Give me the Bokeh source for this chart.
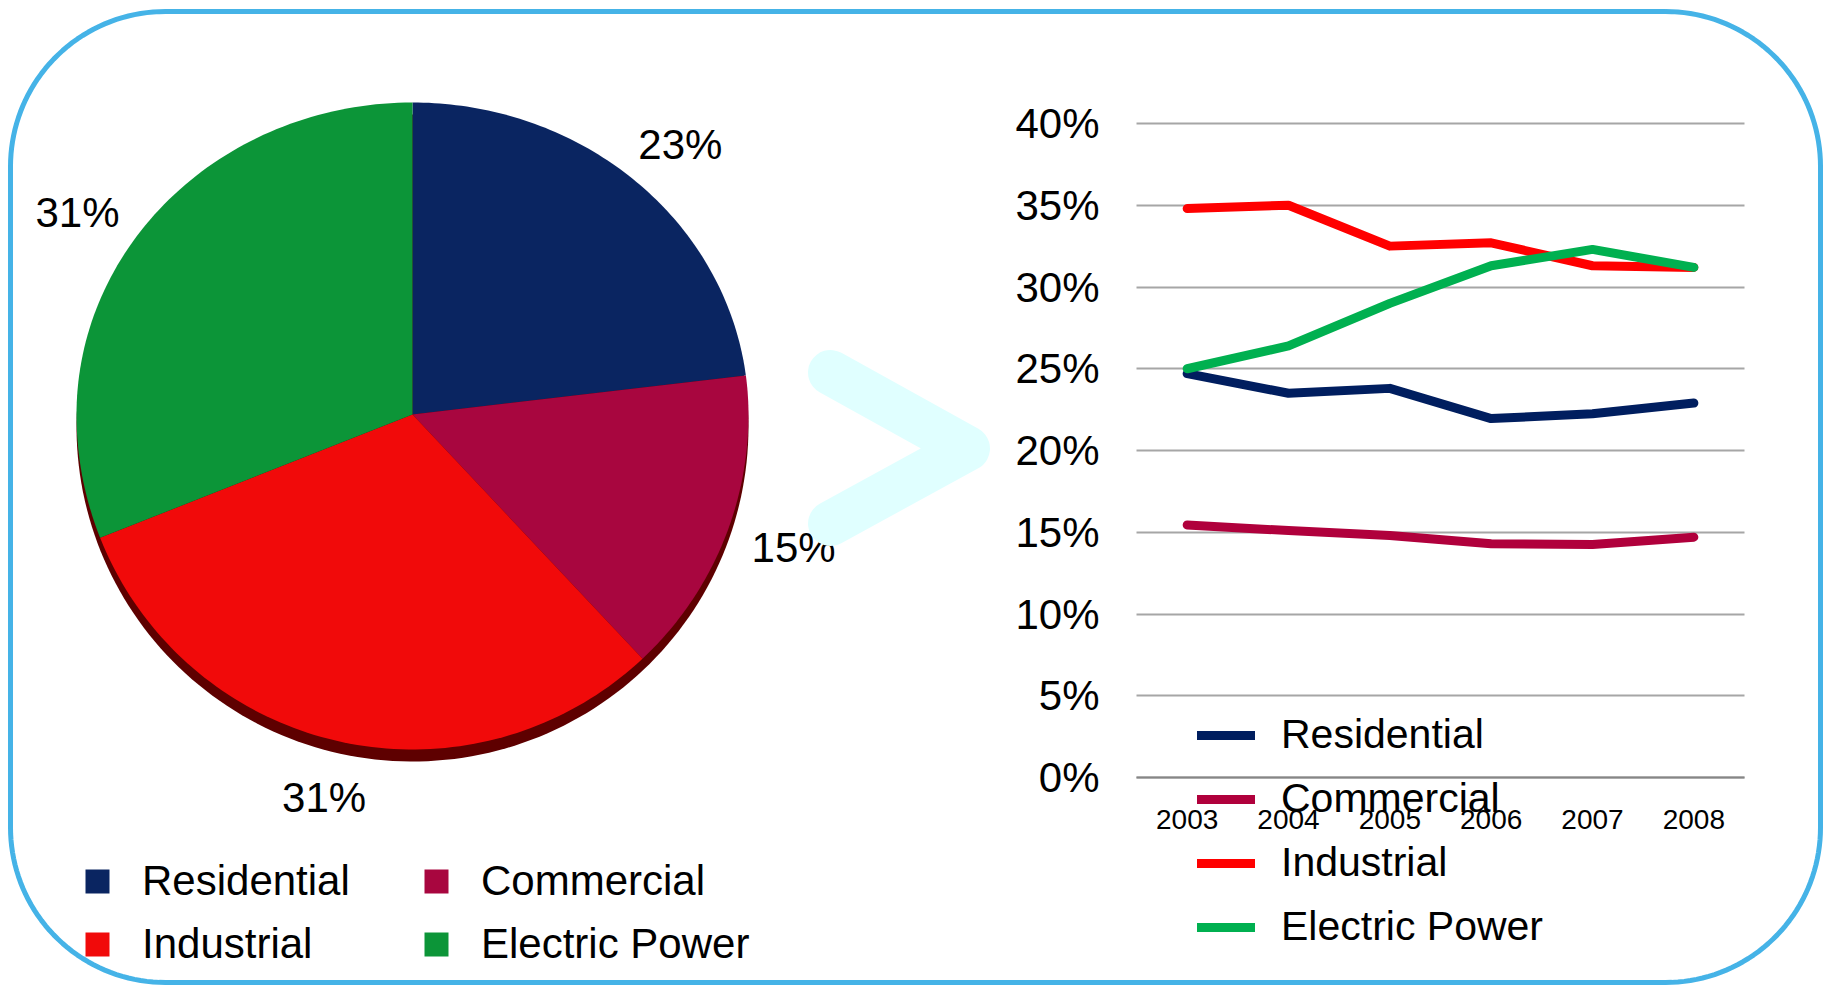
import numpy as np
from bokeh.plotting import figure
from bokeh.models import (Range1d, LinearAxis, FixedTicker, NumeralTickFormatter,
                          Grid, Legend, LegendItem)
from bokeh.core.properties import value
from bokeh.embed import file_html
from bokeh.resources import INLINE

# ---------------- data ----------------
categories = ["Residential", "Commercial", "Industrial", "Electric Power"]
pie_shares = [23, 15, 31, 31]
pie_colors = ["#0a2561", "#a8063f", "#f10a0a", "#0c9538"]
line_colors = ["#001e5f", "#b0003c", "#ff0000", "#00b050"]

years = ["2003", "2004", "2005", "2006", "2007", "2008"]
residential = [0.247, 0.235, 0.238, 0.2195, 0.2225, 0.229]
commercial = [0.1545, 0.151, 0.148, 0.143, 0.1425, 0.147]
industrial = [0.348, 0.350, 0.325, 0.327, 0.313, 0.312]
electric_power = [0.250, 0.264, 0.290, 0.313, 0.323, 0.312]
y_ticks = [0.0, 0.05, 0.10, 0.15, 0.20, 0.25, 0.30, 0.35, 0.40]

FONT = "Liberation Sans"

# ---------------- canvas ----------------
W, H = 1830, 985
OX, OY = 0, 0  # page offset of the canvas
p = figure(width=W, height=H,
           x_range=Range1d(OX, OX + W), y_range=Range1d(OY + H, OY),
           x_axis_type=None, y_axis_type=None,
           toolbar_location=None, output_backend="svg",
           min_border=0, outline_line_color=None)
p.background_fill_color = "white"
p.border_fill_color = "white"

# rounded border
L, R, T, B, rad = 10, 1820, 11, 982, 155
def arc(cx, cy, a0, a1):
    t = np.radians(np.linspace(a0, a1, 40))
    return list(cx + rad * np.cos(t)), list(cy - rad * np.sin(t))
bx, by = [], []
for (cx, cy, a0, a1) in [(R - rad, T + rad, 90, 0), (R - rad, B - rad, 0, -90),
                         (L + rad, B - rad, -90, -180), (L + rad, T + rad, 180, 90)]:
    ax_, ay_ = arc(cx, cy, a0, a1)
    bx += ax_
    by += ay_
bx.append(bx[0]); by.append(by[0])
p.line(bx, by, line_color="#45b3e7", line_width=5)

# ---------------- pie (slightly tilted: flatter top half) ----------------
cx, cy, rx = 412, 414, 336
ry_top, ry_bot = 312, 335
shares = np.array(pie_shares, dtype=float)
cum = np.cumsum(shares) / shares.sum()
ends = 90 - 360 * cum
starts = 90 - 360 * (cum - shares / shares.sum())

def rim(t):
    s = np.sin(t)
    return cx + rx * np.cos(t), cy - np.where(s > 0, ry_top, ry_bot) * s

# shadow under the pie
ts = np.radians(np.linspace(0, 360, 240))
sx, sy = rim(ts)
p.patch(list(sx), list(sy + 12), fill_color="#5e0000", line_color=None)

for s, e, c in zip(starts, ends, pie_colors):
    t = np.radians(np.linspace(s, e, 90))
    rxs, rys = rim(t)
    p.patch([cx] + list(rxs), [cy] + list(rys), fill_color=c, line_color=None)

mids = np.radians((starts + ends) / 2)
ms = np.sin(mids)
lab_x = cx + 405 * np.cos(mids)
lab_y = cy - np.where(ms > 0, 360, 392) * ms
p.text(x=list(lab_x), y=list(lab_y),
       text=[f"{v}%" for v in pie_shares], text_align="center",
       text_baseline="middle", text_font=value(FONT), text_font_size="42px",
       text_color="black")

# chevron decoration
p.line([830, 967, 830], [372, 448, 523], line_color="#e0ffff", line_width=45,
       line_cap="round", line_join="round")

# pie legend (square proxies, not drawn on the canvas)
proxies = [p.scatter(x=np.array([np.nan]), y=np.array([np.nan]), marker="square",
                     size=24, fill_color=c, line_color=None) for c in pie_colors]
pie_leg = Legend(items=[LegendItem(label=nm, renderers=[r]) for nm, r in zip(categories, proxies)],
                 orientation="horizontal", ncols=2, location=(67 - OX, OY + H - 974),
                 glyph_width=60, glyph_height=60, label_standoff=15, spacing=3,
                 label_width=261, label_text_font=FONT, label_text_font_size="42px",
                 label_text_color="black", background_fill_alpha=0,
                 border_line_alpha=0, padding=0, margin=0)
p.add_layout(pie_leg)

# ---------------- line chart (extra ranges) ----------------
gx0, gx1 = 1136, 1744
n = len(years)
pxu = (gx1 - gx0) / n
p.extra_x_ranges = {"yr": Range1d(-0.5 - (gx0 - OX) / pxu, n - 0.5 + (OX + W - gx1) / pxu)}
y0px, y40px = 777, 123
pyu = (y0px - y40px) / 0.40
p.extra_y_ranges = {"pct": Range1d(-(OY + H - y0px) / pyu, 0.40 + (y40px - OY) / pyu)}

grid = Grid(dimension=1, ticker=FixedTicker(ticks=y_ticks), x_range_name="yr",
            y_range_name="pct", grid_line_color="#a6a6a6", grid_line_width=2)
if "cross_bounds" in Grid.properties():
    grid.cross_bounds = (-0.5, n - 0.5)
    p.add_layout(grid)
else:
    p.segment(x0=-0.5, x1=n - 0.5, y0=y_ticks, y1=y_ticks, x_range_name="yr",
              y_range_name="pct", line_color="#a6a6a6", line_width=2)

yax = LinearAxis(x_range_name="yr", y_range_name="pct", fixed_location=-0.5,
                 ticker=FixedTicker(ticks=y_ticks),
                 formatter=NumeralTickFormatter(format="0%"))
yax.axis_line_color = None
yax.major_tick_line_color = None
yax.minor_tick_line_color = None
yax.major_label_standoff = 31
yax.major_label_text_font = FONT
yax.major_label_text_font_size = "42px"
yax.major_label_text_color = "black"
p.add_layout(yax, "left")

xax = LinearAxis(x_range_name="yr", y_range_name="pct", fixed_location=0,
                 ticker=FixedTicker(ticks=list(range(n))),
                 major_label_overrides={i: yv for i, yv in enumerate(years)},
                 bounds=(-0.5, n - 0.5))
xax.axis_line_color = "#868686"
xax.axis_line_width = 2
xax.major_tick_line_color = None
xax.minor_tick_line_color = None
xax.major_label_standoff = 26
xax.major_label_text_font = FONT
xax.major_label_text_font_size = "28px"
xax.major_label_text_color = "black"
p.add_layout(xax, "below")

series = [residential, commercial, industrial, electric_power]
xs_idx = list(range(n))
line_rs = []
for vals, c in zip(series, line_colors):
    line_rs.append(p.line(xs_idx, vals, x_range_name="yr", y_range_name="pct",
                          line_color=c, line_width=9, line_cap="round",
                          line_join="round"))

line_leg = Legend(items=[LegendItem(label=nm, renderers=[r]) for nm, r in zip(categories, line_rs)],
                  location=(1197 - OX, OY + H - 950), glyph_width=58, glyph_height=46,
                  label_standoff=26, spacing=17, label_text_font=FONT,
                  label_text_font_size="41px", label_text_color="black",
                  background_fill_alpha=0, border_line_alpha=0, padding=0, margin=0)
p.add_layout(line_leg)

open("out.html", "w").write(file_html(p, INLINE))
